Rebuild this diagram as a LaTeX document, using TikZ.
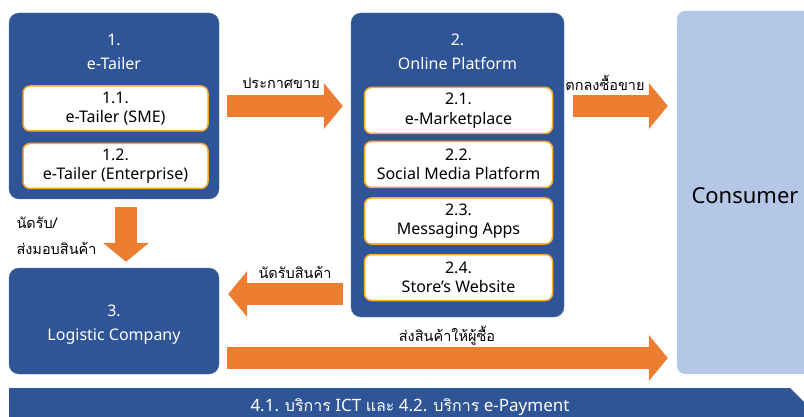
\documentclass[tikz,border=0pt]{standalone}
\usepackage{fontspec}
\setmainfont{Noto Sans}
\newfontfamily\thaifont[Script=Thai]{Loma}
\usetikzlibrary{arrows.meta}

\definecolor{boxblue}{HTML}{2F5597}
\definecolor{arroworange}{HTML}{ED7D31}
\definecolor{itemorange}{HTML}{FFA726}
\definecolor{consumerblue}{HTML}{B4C7E7}

\tikzset{
  mainbox/.style={fill=boxblue, draw=boxblue!85!white, rounded corners=10pt, inner sep=0pt},
  itembox/.style={fill=white, draw=itemorange, line width=1.5pt, rounded corners=7pt,
    align=center, inner sep=0pt, font=\fontsize{16}{19.5}\selectfont},
  titletext/.style={text=white, align=center, font=\fontsize{16}{24}\selectfont},
  thaitext/.style={font=\thaifont\fontsize{14.5}{26}\selectfont, align=center},
  bigarrow/.style={draw=arroworange, line width=22pt,
    -{Triangle[width=45pt,length=19pt]}, shorten <=8pt, shorten >=8pt},
}

\begin{document}
\begin{tikzpicture}[x=1pt,y=-1pt]
    \useasboundingbox (0,0) rectangle (804,417);
    \clip (0,0) rectangle (804,417);

    % 1. e-Tailer
    \node[mainbox, minimum width=210, minimum height=186] (retail) at (114,106) {};
    \node[titletext] (retailtitle) at (114,52) {1.\\e-Tailer};
    \node[itembox, minimum width=185, minimum height=45] (sme) at (115.5,108.5) {1.1.\\e-Tailer (SME)};
    \node[itembox, minimum width=185, minimum height=45] (enterprise) at (115.5,166) {1.2.\\e-Tailer (Enterprise)};

    % 2. Online Platform
    \node[mainbox, minimum width=213, minimum height=304] (platform) at (457.5,165) {};
    \node[titletext] (platformtitle) at (457.5,52) {2.\\Online Platform};
    \node[itembox, minimum width=188, minimum height=46] (market) at (458.5,110.5) {2.1.\\e-Marketplace};
    \node[itembox, minimum width=188, minimum height=46] (social) at (458.5,164.5) {2.2.\\Social Media Platform};
    \node[itembox, minimum width=188, minimum height=46] (message) at (458.5,221) {2.3.\\Messaging Apps};
    \node[itembox, minimum width=188, minimum height=46] (website) at (458.5,277.5) {2.4.\\Store's Website};

    % 3. Logistic Company
    \node[mainbox, minimum width=210, minimum height=106] (logistic) at (114,321) {};
    \node[titletext] (logistictitle) at (114,324.5) {3.\\Logistic Company};

    % Consumer
    \node[fill=consumerblue, rounded corners=8pt, minimum width=153, minimum height=363] (consumer) at (753.5,192.5) {};
    \node[font=\fontsize{22}{26}\selectfont] (consumertitle) at (745,196) {Consumer};

    % 4. ICT / e-Payment
    \fill[boxblue] (9,388) -- (790,388) -- (804,402) -- (804,420) -- (9,420) -- cycle;
    \node[text=white, font=\fontsize{17}{18}\selectfont] (services) at (410,407)
      {4.1. {\thaifont\fontsize{16}{18}\selectfont บริการ} ICT {\thaifont\fontsize{16}{18}\selectfont และ} 4.2. {\thaifont\fontsize{16}{18}\selectfont บริการ} e-Payment};

    % flujos
    \coordinate (pickup) at ([yshift=27pt]logistic.east);
    \coordinate (ship) at ([yshift=-37pt]logistic.east);

    \draw[bigarrow] (retail.east) -- (retail.east -| platform.west);
    \draw[bigarrow, shorten <=9pt, shorten >=9pt] (retail.east -| platform.east) -- (retail.east -| consumer.west);
    \draw[bigarrow, shorten >=6pt] ([xshift=12pt]retail.south) -- ([xshift=12pt]logistic.north);
    \draw[bigarrow, shorten >=9pt] (pickup -| platform.west) -- (pickup);
    \draw[bigarrow, shorten >=9pt] (ship) -- (ship -| consumer.west);

    % etiquetas
    \node[thaitext] (announce) at (281,83) {ประกาศขาย};
    \node[thaitext] (agree) at (605,83) {ตกลงซื้อขาย};
    \node[thaitext, anchor=west, align=left] (handover) at (13,236) {นัดรับ/\\ส่งมอบสินค้า};
    \node[thaitext] (appoint) at (295,272) {นัดรับสินค้า};
    \node[thaitext] (deliver) at (447,336) {ส่งสินค้าให้ผู้ซื้อ};
\end{tikzpicture}
\end{document}
